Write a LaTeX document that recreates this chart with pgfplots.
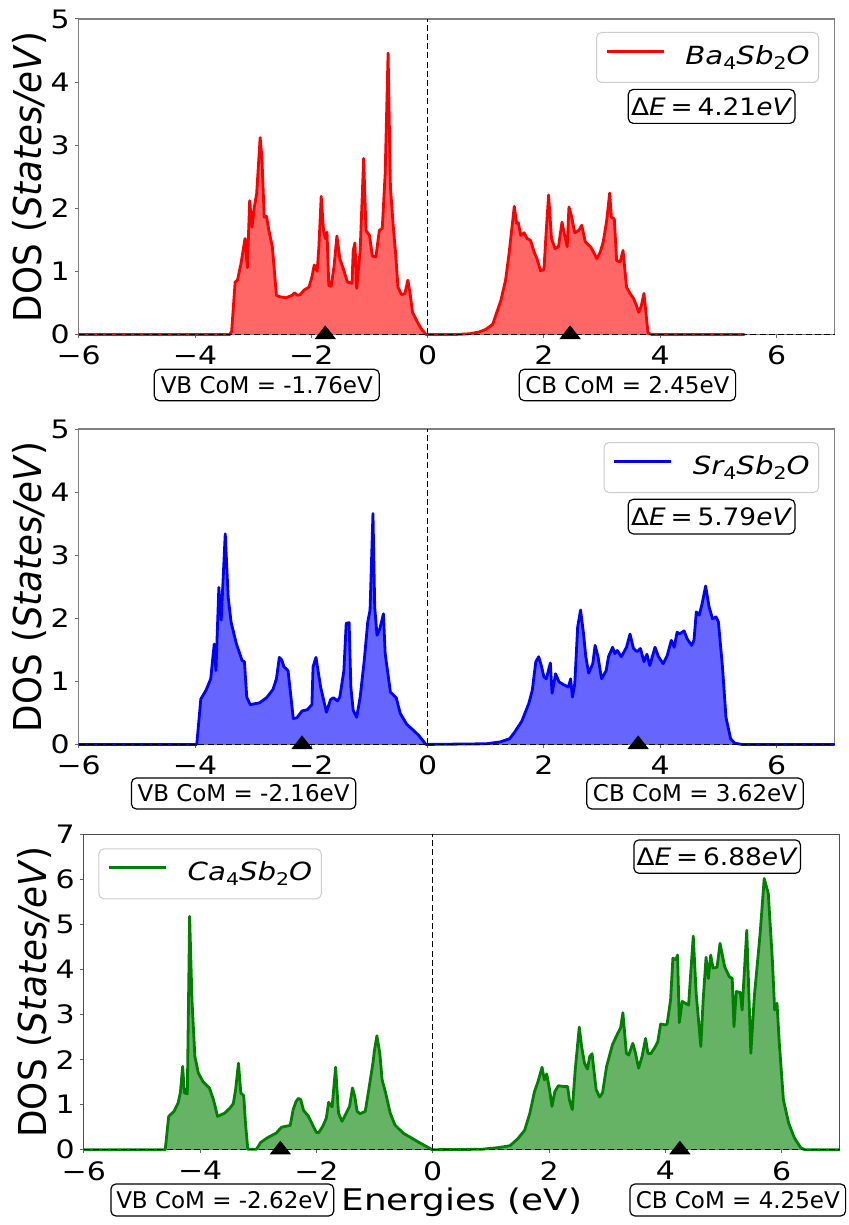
\documentclass[border=0pt]{standalone}
\usepackage{fontspec}
\usepackage{pgfplots}
\usepackage{pgfplotstable}
\pgfplotsset{compat=1.18}
\setmainfont{DejaVu Sans}
\newfontfamily\tickfont{DejaVu Sans}[FakeStretch=1.18]
\newfontfamily\legfont{DejaVu Sans}[FakeStretch=1.17]
\newfontfamily\ylabfont{DejaVu Sans}[FakeStretch=0.93]
\newfontfamily\xlabfont{DejaVu Sans}[FakeStretch=1.2]
\newfontfamily\defont{DejaVu Sans}[FakeStretch=1.1]
\newcommand\sub[1]{\raisebox{-0.2em}{\fontsize{8.75}{9}\selectfont\upshape #1}}

\definecolor{redfill}{RGB}{255,102,102}
\definecolor{bluefill}{RGB}{102,102,255}
\definecolor{mplgreen}{RGB}{0,128,0}
\definecolor{greenfill}{RGB}{102,179,102}

\pgfplotstableread{
E D
-6 0
-3.40 0
-3.37 0.05
-3.31 0.83
-3.27 0.86
-3.21 1.12
-3.14 1.52
-3.10 1.06
-3.06 2.12
-3.02 1.70
-2.98 2.02
-2.94 2.23
-2.88 3.12
-2.85 2.81
-2.81 1.86
-2.77 1.87
-2.73 1.65
-2.67 1.39
-2.60 0.62
-2.55 0.60
-2.44 0.58
-2.33 0.62
-2.29 0.66
-2.24 0.62
-2.19 0.63
-2.13 0.70
-2.04 0.75
-1.99 0.91
-1.95 1.10
-1.90 1.00
-1.87 1.39
-1.83 2.19
-1.79 1.65
-1.76 1.52
-1.73 1.62
-1.70 0.78
-1.66 0.76
-1.61 1.07
-1.56 1.56
-1.51 1.20
-1.45 1.04
-1.38 0.83
-1.30 0.81
-1.28 1.33
-1.25 1.45
-1.22 0.73
-1.16 1.33
-1.10 2.79
-1.06 1.65
-1.00 1.57
-0.95 1.24
-0.89 1.23
-0.83 1.65
-0.78 1.68
-0.73 2.55
-0.68 4.46
-0.64 2.34
-0.59 1.70
-0.55 1.28
-0.51 0.75
-0.45 0.63
-0.39 0.65
-0.34 0.86
-0.30 0.64
-0.26 0.35
-0.19 0.22
-0.11 0.09
-0.03 0
0.50 0
0.72 0.01
0.89 0.04
1.00 0.08
1.12 0.16
1.17 0.30
1.26 0.54
1.34 0.86
1.40 1.28
1.49 2.03
1.53 1.76
1.56 1.77
1.60 1.57
1.66 1.61
1.71 1.52
1.77 1.49
1.83 1.31
1.88 1.20
1.94 1.01
2.00 1.03
2.04 1.65
2.08 2.21
2.13 1.52
2.19 1.36
2.25 1.39
2.31 1.78
2.36 1.55
2.40 1.39
2.43 2.02
2.47 1.89
2.53 1.61
2.60 1.65
2.65 1.73
2.71 1.47
2.80 1.39
2.85 1.31
2.91 1.20
2.97 1.31
3.02 1.47
3.08 1.81
3.13 2.24
3.16 1.86
3.21 1.83
3.25 1.17
3.31 1.15
3.36 1.33
3.42 0.75
3.48 0.65
3.54 0.57
3.59 0.46
3.63 0.35
3.67 0.44
3.72 0.65
3.75 0.38
3.79 0.02
3.85 0
5.45 0
}\ba

\pgfplotstableread{
E D
-6 0
-3.97 0
-3.90 0.72
-3.81 0.86
-3.73 1.04
-3.67 1.59
-3.64 1.17
-3.59 2.49
-3.55 1.97
-3.48 3.34
-3.43 2.34
-3.38 1.94
-3.29 1.60
-3.19 1.33
-3.15 1.31
-3.11 0.75
-3.05 0.63
-2.89 0.66
-2.77 0.74
-2.66 0.87
-2.60 1.04
-2.55 1.38
-2.51 1.34
-2.47 1.23
-2.40 1.17
-2.31 0.41
-2.25 0.42
-2.16 0.53
-2.07 0.55
-1.99 0.63
-1.97 1.23
-1.92 1.38
-1.84 0.91
-1.80 0.75
-1.74 0.51
-1.67 0.71
-1.62 0.74
-1.55 0.69
-1.51 0.75
-1.44 1.17
-1.40 1.92
-1.35 1.93
-1.32 0.91
-1.28 0.54
-1.22 0.43
-1.16 0.75
-1.09 1.33
-1.03 1.94
-0.99 2.13
-0.94 3.66
-0.91 2.18
-0.87 1.73
-0.82 1.84
-0.76 2.07
-0.73 1.44
-0.64 0.83
-0.54 0.74
-0.47 0.49
-0.36 0.32
-0.24 0.22
-0.15 0.14
-0.03 0
0.03 0
1.01 0.01
1.25 0.04
1.41 0.09
1.50 0.20
1.62 0.37
1.74 0.65
1.80 0.86
1.86 1.31
1.91 1.39
1.96 1.23
2.00 1.07
2.04 1.04
2.11 1.29
2.14 0.81
2.20 1.12
2.26 0.99
2.35 0.94
2.42 0.91
2.46 1.04
2.49 0.75
2.53 0.96
2.58 1.86
2.63 2.13
2.68 1.76
2.72 1.39
2.77 1.13
2.84 1.28
2.88 1.57
2.93 1.39
2.99 1.04
3.07 1.17
3.11 1.39
3.18 1.54
3.22 1.44
3.26 1.49
3.33 1.39
3.42 1.54
3.48 1.75
3.54 1.52
3.60 1.47
3.66 1.52
3.72 1.31
3.77 1.43
3.82 1.25
3.91 1.54
3.97 1.39
4.05 1.28
4.12 1.41
4.19 1.65
4.24 1.54
4.29 1.78
4.33 1.75
4.41 1.80
4.46 1.68
4.54 1.57
4.58 1.65
4.62 2.10
4.67 2.05
4.72 2.23
4.78 2.51
4.84 2.18
4.90 1.99
4.96 2.02
5.00 1.94
5.07 1.23
5.13 0.43
5.21 0.09
5.28 0.02
5.40 0
7 0
}\sr

\pgfplotstableread{
E D
-6 0
-4.60 0
-4.54 0.74
-4.45 0.85
-4.38 1.03
-4.34 1.26
-4.30 1.85
-4.27 1.26
-4.22 1.24
-4.18 5.18
-4.14 3.32
-4.09 2.07
-4.03 1.70
-3.95 1.51
-3.84 1.37
-3.77 1.11
-3.70 0.74
-3.58 0.81
-3.49 0.92
-3.43 1.02
-3.39 1.33
-3.34 1.92
-3.30 1.26
-3.25 1.20
-3.22 0.59
-3.18 0.01
-3.03 0.01
-2.96 0.16
-2.85 0.26
-2.69 0.37
-2.60 0.50
-2.45 0.54
-2.40 0.89
-2.35 1.07
-2.31 1.14
-2.27 1.11
-2.22 0.87
-2.14 0.75
-2.08 0.59
-2.00 0.38
-1.96 0.38
-1.89 0.52
-1.83 0.70
-1.79 1.05
-1.73 0.95
-1.67 1.83
-1.62 0.81
-1.56 0.63
-1.50 0.78
-1.43 0.96
-1.38 1.37
-1.34 1.18
-1.30 0.85
-1.25 0.80
-1.16 0.85
-1.10 1.33
-1.03 1.91
-1.00 2.22
-0.96 2.53
-0.91 2.14
-0.87 1.55
-0.81 1.26
-0.73 0.81
-0.65 0.55
-0.51 0.37
-0.26 0.18
-0.01 0
0.84 0.01
1.15 0.05
1.33 0.09
1.46 0.24
1.58 0.43
1.67 0.81
1.75 1.29
1.81 1.51
1.88 1.83
1.92 1.55
1.96 1.68
2.01 1.33
2.05 0.96
2.10 1.29
2.16 1.42
2.26 1.40
2.32 1.40
2.35 1.11
2.40 0.89
2.45 1.77
2.52 2.72
2.56 2.29
2.61 1.92
2.66 1.79
2.70 2.07
2.74 2.13
2.81 1.33
2.87 1.17
2.92 1.26
2.99 1.85
3.09 2.33
3.18 2.58
3.23 2.70
3.27 3.04
3.33 2.14
3.37 2.10
3.44 2.36
3.48 2.18
3.54 1.81
3.60 2.07
3.66 2.47
3.70 2.14
3.75 2.13
3.82 2.27
3.87 2.40
3.92 2.79
4.00 2.77
4.03 2.79
4.09 3.32
4.13 4.25
4.18 4.22
4.21 4.32
4.24 2.82
4.29 3.29
4.33 3.26
4.40 3.21
4.44 3.99
4.48 4.74
4.53 3.47
4.61 2.29
4.65 3.32
4.70 4.27
4.74 3.80
4.78 4.32
4.82 4.03
4.89 4.05
4.94 4.58
5.02 4.06
5.10 3.84
5.15 3.80
5.18 2.73
5.22 3.51
5.29 3.49
5.32 3.10
5.40 4.87
5.47 2.14
5.53 3.40
5.63 4.80
5.70 6.02
5.77 5.69
5.84 4.21
5.88 3.10
5.92 3.25
5.96 2.36
6.03 1.11
6.12 0.59
6.22 0.26
6.33 0.04
6.40 0
7 0
}\ca

\pgfplotsset{
  dosaxis/.style={
    scale only axis, width=378pt, height=157.7pt,
    xmin=-6, xmax=7, ymin=0,
    xtick={-6,-4,-2,0,2,4,6},
    xticklabels={−6,−4,−2,0,2,4,6},
    xtick pos=bottom, ytick pos=left,
    tick align=outside, major tick length=1.75pt,
    every tick/.style={black!60, line width=0.5pt},
    axis line style={black!50, line width=0.6pt},
    ticklabel style={font=\tickfont\fontsize{12.7}{14}\selectfont, inner sep=0pt},
    xticklabel style={anchor=north, yshift=-3.8pt},
    yticklabel style={anchor=east, xshift=-2.6pt},
    clip=false,
    every axis y label/.style={at={(axis description cs:0,0.5)}, xshift=-24.5pt, rotate=90, anchor=center},
    ylabel={\ylabfont\fontsize{19.2}{22}\selectfont DOS (\textit{States/eV})},
    legend image code/.code={\draw[#1] (0pt,0.3em) -- (28.5pt,0.3em);},
    legend cell align=left,
    legend style={draw=black!20, line width=0.5pt, rounded corners=2.5pt, fill=white,
      inner xsep=4.5pt, inner ysep=6.5pt,
      font=\legfont\fontsize{12.5}{14}\selectfont,
      nodes={inner sep=0pt, text height=9.5pt, text depth=2.5pt},
      /tikz/every odd column/.append style={column sep=10pt}},
  },
  fillp/.style={draw=none, fill=#1, forget plot},
  curve/.style={draw=#1, line width=1.4pt, line join=round},
  zline/.style={black, line width=0.75pt, dash pattern=on 3pt off 1.6pt, forget plot},
  com/.style={only marks, mark=triangle*, mark size=4.2pt, mark options={black, fill=black, xscale=1.35}, forget plot},
}
\tikzset{cbox/.style={draw=black, line width=0.6pt, rounded corners=2.5pt, fill=white, inner sep=0pt,
  font=\fontsize{11.5}{13}\selectfont}}

\begin{document}
\begin{tikzpicture}
% Panel 1: Ba4Sb2O
\begin{axis}[dosaxis, at={(39.35pt,-9.5pt)}, anchor=north west,
  ymax=5, ytick={0,1,2,3,4,5}, yticklabels={0,1,2,3,4,5},
  legend style={at={(1,1)}, anchor=north east, xshift=-7.8pt, yshift=-6.5pt}]
\addplot[fillp=redfill] table[x=E,y=D]{\ba} \closedcycle;
\addplot[curve=red] table[x=E,y=D]{\ba};
\addlegendentry{\itshape Ba\sub{4}Sb\sub{2}O}
\addplot[zline] coordinates {(0,0) (0,5)};
\addplot[zline] coordinates {(-6,0) (7,0)};
\addplot[com] coordinates {(-1.76,0) (2.45,0)};
\end{axis}
% Panel 2: Sr4Sb2O
\begin{axis}[dosaxis, at={(39.35pt,-214.5pt)}, anchor=north west,
  ymax=5, ytick={0,1,2,3,4,5}, yticklabels={0,1,2,3,4,5},
  legend style={at={(1,1)}, anchor=north east, xshift=-7.8pt, yshift=-6.5pt}]
\addplot[fillp=bluefill] table[x=E,y=D]{\sr} \closedcycle;
\addplot[curve=blue] table[x=E,y=D]{\sr};
\addlegendentry{\itshape Sr\sub{4}Sb\sub{2}O}
\addplot[zline] coordinates {(0,0) (0,5)};
\addplot[zline] coordinates {(-6,0) (7,0)};
\addplot[com] coordinates {(-2.16,0) (3.62,0)};
\end{axis}
% Panel 3: Ca4Sb2O
\begin{axis}[dosaxis, at={(41.9pt,-417.15pt)}, anchor=north west,
  axis line style={black!70, line width=0.6pt},
  ymax=7, ytick={0,1,2,3,4,5,6,7}, yticklabels={0,1,2,3,4,5,6,7},
  every axis x label/.style={at={(axis description cs:0.5,0)}, anchor=base, yshift=-30.5pt},
  xlabel={\xlabfont\fontsize{14.9}{17}\selectfont Energies (eV)},
  legend style={at={(0,1)}, anchor=north west, xshift=7.3pt, yshift=-7pt}]
\addplot[fillp=greenfill] table[x=E,y=D]{\ca} \closedcycle;
\addplot[curve=mplgreen] table[x=E,y=D]{\ca};
\addlegendentry{\itshape Ca\sub{4}Sb\sub{2}O}
\addplot[zline] coordinates {(0,0) (0,7)};
\addplot[zline] coordinates {(-6,0) (7,0)};
\addplot[com] coordinates {(-2.62,0) (4.25,0)};
\end{axis}
% annotation boxes
\node[cbox, minimum width=112.5pt, minimum height=15.7pt] at (133.4pt,-192.5pt) {VB CoM = -1.76eV};
\node[cbox, minimum width=108.2pt, minimum height=15.7pt] at (313.7pt,-192.5pt) {CB CoM = 2.45eV};
\node[cbox, minimum width=83.3pt, minimum height=17pt, font=\defont\fontsize{12}{14}\selectfont] at (355.8pt,-53.2pt) {Δ\textit{E}\hspace{0.2em}=\hspace{0.2em}4.21\textit{eV}};
\node[cbox, minimum width=112.2pt, minimum height=15.5pt] at (121.8pt,-396.75pt) {VB CoM = -2.16eV};
\node[cbox, minimum width=108.2pt, minimum height=15.5pt] at (347.5pt,-396.75pt) {CB CoM = 3.62eV};
\node[cbox, minimum width=83.3pt, minimum height=17.3pt, font=\defont\fontsize{12}{14}\selectfont] at (355.8pt,-258.3pt) {Δ\textit{E}\hspace{0.2em}=\hspace{0.2em}5.79\textit{eV}};
\node[cbox, minimum width=111.4pt, minimum height=16pt] at (111.15pt,-600pt) {VB CoM = -2.62eV};
\node[cbox, minimum width=107.8pt, minimum height=16pt] at (368.9pt,-600pt) {CB CoM = 4.25eV};
\node[cbox, minimum width=83.25pt, minimum height=16.7pt, font=\defont\fontsize{12}{14}\selectfont] at (358.6pt,-428.3pt) {Δ\textit{E}\hspace{0.2em}=\hspace{0.2em}6.88\textit{eV}};
\pgfresetboundingbox
\path[use as bounding box] (0,0) rectangle (424pt,-612.5pt);
\end{tikzpicture}
\end{document}
